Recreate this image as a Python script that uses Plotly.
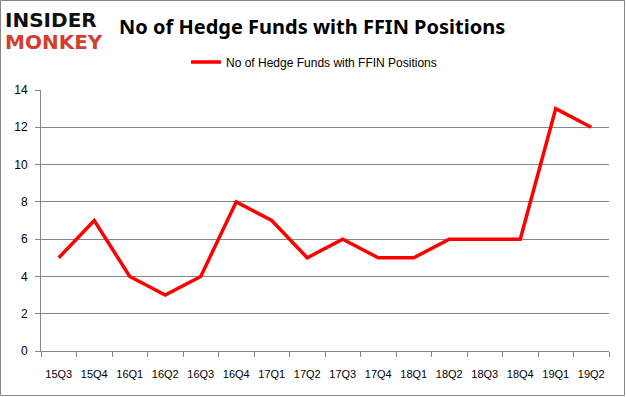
import plotly.graph_objects as go

quarters = ["15Q3", "15Q4", "16Q1", "16Q2", "16Q3", "16Q4", "17Q1", "17Q2",
            "17Q3", "17Q4", "18Q1", "18Q2", "18Q3", "18Q4", "19Q1", "19Q2"]
funds = [5, 7, 4, 3, 4, 8, 7, 5, 6, 5, 5, 6, 6, 6, 13, 12]
series_name = "No of Hedge Funds with FFIN Positions"
y_ticks = [0, 2, 4, 6, 8, 10, 12, 14]

W, H = 626, 397
L, R, T, B = 41, 17, 90, 46
pw, ph = W - L - R, H - T - B

fig = go.Figure()
fig.add_trace(go.Scatter(
    x=quarters, y=funds, mode="lines", name=series_name,
    line=dict(color="#ff0000", width=3.5),
))

axis_col = "#868686"
fig.update_layout(
    width=W, height=H,
    margin=dict(l=L, r=R, t=T, b=B, autoexpand=False),
    paper_bgcolor="white", plot_bgcolor="white",
    font=dict(family="Liberation Sans, Arial, sans-serif", size=11, color="#000000"),
    showlegend=True,
    legend=dict(orientation="h", x=(314 - L) / pw, xanchor="center", y=1 + 28 / ph, yanchor="middle",
                font=dict(size=12, family="Liberation Sans, Arial"), bgcolor="rgba(0,0,0,0)"),
    xaxis=dict(type="category", showgrid=False, showline=True, linecolor=axis_col, linewidth=1,
               ticks="outside", tickson="boundaries", ticklen=5, tickcolor=axis_col,
               tickangle=0, automargin=False, ticklabelstandoff=13,
               tickfont=dict(size=11), range=[-0.5, len(quarters) - 0.5]),
    yaxis=dict(range=[0, 14], tickvals=y_ticks, showgrid=True, gridcolor=axis_col, gridwidth=1,
               showline=True, linecolor=axis_col, linewidth=1, ticks="outside", ticklen=5,
               tickcolor=axis_col, tickfont=dict(size=12), zeroline=False, automargin=False,
               ticklabelstandoff=5),
)

fig.add_annotation(text="<b>No of Hedge Funds with FFIN Positions</b>", xref="paper", yref="paper",
                   x=(312 - L) / pw, y=1 + (T - 27) / ph, xanchor="center", yanchor="middle",
                   showarrow=False, font=dict(size=20, family="Noto Sans, Open Sans, sans-serif", color="#000"))
fig.add_annotation(text="<b>INSIDER</b>", xref="paper", yref="paper",
                   x=(3 - L) / pw, y=1 + (T - 20) / ph, xanchor="left", yanchor="middle",
                   showarrow=False, font=dict(size=20, family="DejaVu Sans, sans-serif", color="#111"))
fig.add_annotation(text="<b>MONKEY</b>", xref="paper", yref="paper",
                   x=(3 - L) / pw, y=1 + (T - 42) / ph, xanchor="left", yanchor="middle",
                   showarrow=False, font=dict(size=20, family="DejaVu Sans, sans-serif", color="#d23f2e"))
fig.add_shape(type="rect", xref="paper", yref="paper",
              x0=(0.5 - L) / pw, x1=1 + (R - 1.5) / pw, y0=-(B - 1.5) / ph, y1=1 + (T - 0.5) / ph,
              line=dict(color="#868686", width=1))

fig.write_html("out.html", config={"displayModeBar": False},
               post_script="document.body.style.margin='0px';document.body.style.overflow='hidden';")
